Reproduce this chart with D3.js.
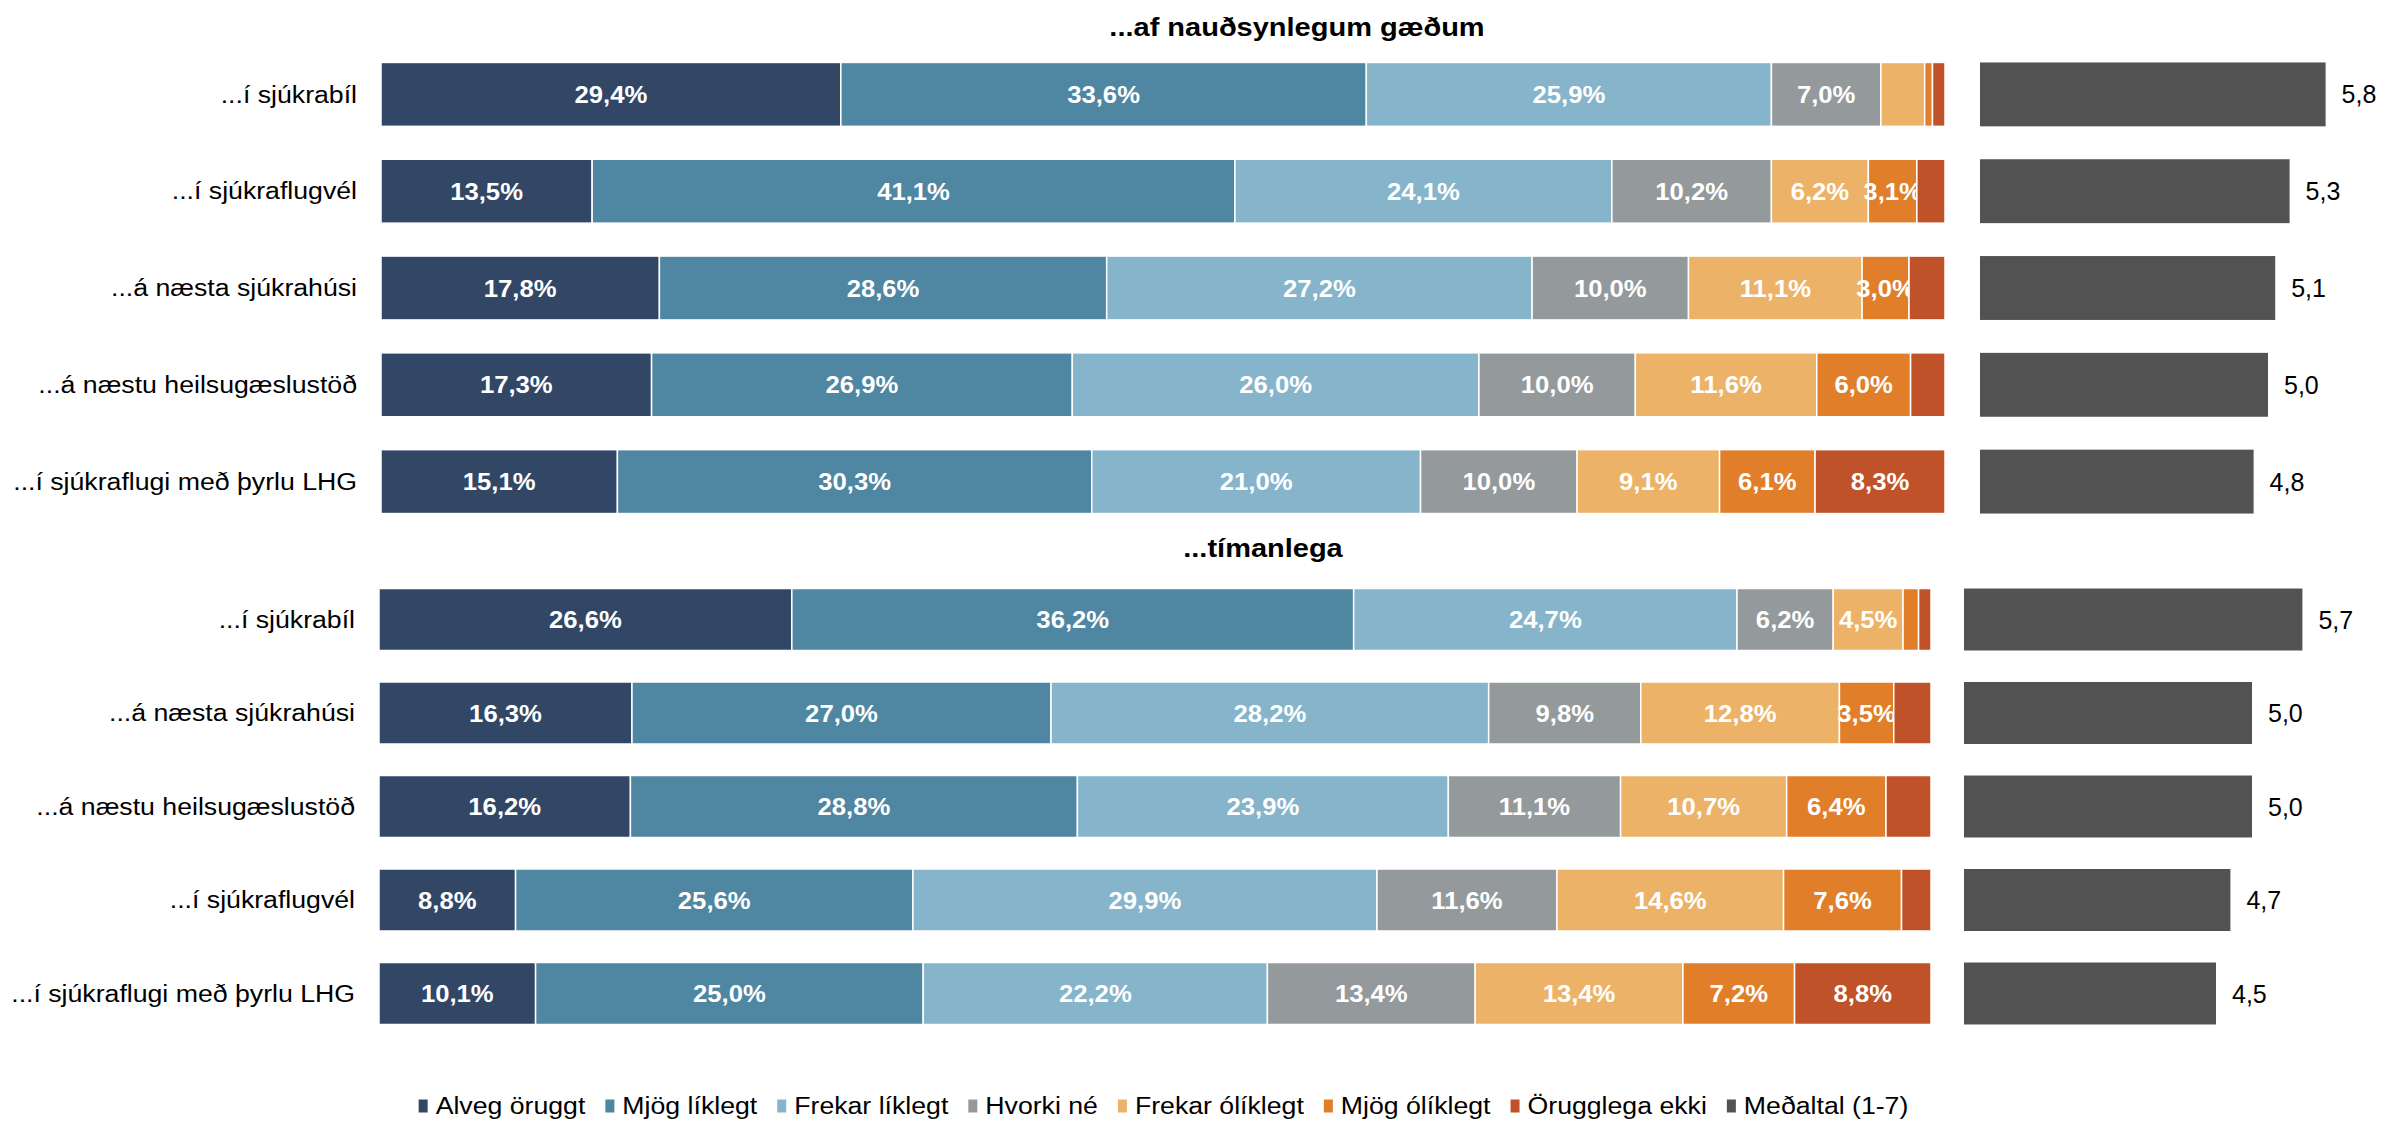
<!DOCTYPE html>
<html>
<head>
<meta charset="utf-8">
<script src="https://cdn.jsdelivr.net/npm/d3@7"></script>
<style>
  html, body { margin: 0; padding: 0; background: #fff; }
  svg { display: block; }
  text { font-family: "Liberation Sans", Arial, sans-serif; }
</style>
</head>
<body>
<svg id="chart" width="2384" height="1122"></svg>
<script>
// ---------- DATA ----------
const seriesNames = ["Alveg öruggt", "Mjög líklegt", "Frekar líklegt", "Hvorki né", "Frekar ólíklegt", "Mjög ólíklegt", "Örugglega ekki"];
const meanName = "Meðaltal (1-7)";

const titleTop = "...af nauðsynlegum gæðum";
const titleBottom = "...tímanlega";

const categoriesTop = ["...í sjúkrabíl", "...í sjúkraflugvél", "...á næsta sjúkrahúsi", "...á næstu heilsugæslustöð", "...í sjúkraflugi með þyrlu LHG"];
const categoriesBottom = ["...í sjúkrabíl", "...á næsta sjúkrahúsi", "...á næstu heilsugæslustöð", "...í sjúkraflugvél", "...í sjúkraflugi með þyrlu LHG"];

// top section (af nauðsynlegum gæðum)
const topAlveg   = [29.4, 13.5, 17.8, 17.3, 15.1];
const topMjogL   = [33.6, 41.1, 28.6, 26.9, 30.3];
const topFrekarL = [25.9, 24.1, 27.2, 26.0, 21.0];
const topHvorki  = [7.0, 10.2, 10.0, 10.0, 10.0];
const topFrekarO = [2.8, 6.2, 11.1, 11.6, 9.1];
const topMjogO   = [0.5, 3.1, 3.0, 6.0, 6.1];
const topOrugg   = [0.8, 1.8, 2.3, 2.2, 8.3];
const topMean    = [5.8, 5.3, 5.1, 5.0, 4.8];

// bottom section (tímanlega)
const botAlveg   = [26.6, 16.3, 16.2, 8.8, 10.1];
const botMjogL   = [36.2, 27.0, 28.8, 25.6, 25.0];
const botFrekarL = [24.7, 28.2, 23.9, 29.9, 22.2];
const botHvorki  = [6.2, 9.8, 11.1, 11.6, 13.4];
const botFrekarO = [4.5, 12.8, 10.7, 14.6, 13.4];
const botMjogO   = [1.0, 3.5, 6.4, 7.6, 7.2];
const botOrugg   = [0.8, 2.4, 2.9, 1.9, 8.8];
const botMean    = [5.7, 5.0, 5.0, 4.7, 4.5];

const meanDomain = [1, 7];

// ---------- STYLE ----------
const colors = ["#324666", "#4f86a1", "#86b5cb", "#949a9b", "#ecb368", "#e07e29", "#c05229"];
const meanColor = "#525252";
const stretch = 1.16;      // horizontal stretch of the original text
const valStretch = 1.07;   // stretch of the value labels

const locale = d3.formatLocale({decimal: ",", thousands: ".", grouping: [3], currency: ["", ""]});
const fmtPct = v => locale.format(".1f")(v) + "%";
const fmtMean = locale.format(".1f");

const svg = d3.select("#chart");

function buildRows(cats, arrs) {
  return cats.map((c, i) => {
    const o = {cat: c};
    seriesNames.forEach((s, j) => o[s] = arrs[j][i]);
    return o;
  });
}

function drawSection(cfg) {
  const rows = buildRows(cfg.cats, cfg.arrs);
  const y = d3.scaleBand().domain(cfg.cats).range(cfg.yRange).paddingInner(cfg.pad).paddingOuter(cfg.pad / 2);
  const x = d3.scaleLinear().domain([0, 1]).range(cfg.xRange);
  const xm = d3.scaleLinear().domain(meanDomain).range([cfg.meanX0, cfg.meanX0 + 72 * (meanDomain[1] - meanDomain[0])]);

  const stack = d3.stack().keys(seriesNames).offset(d3.stackOffsetExpand);
  const layers = stack(rows);

  const g = svg.append("g");

  const lg = g.selectAll("g.layer").data(layers).join("g")
    .attr("fill", (d, i) => colors[i]);

  lg.selectAll("rect").data(d => d.map(v => ({v, key: d.key}))).join("rect")
    .attr("x", d => x(d.v[0]))
    .attr("y", d => y(d.v.data.cat))
    .attr("width", d => Math.max(0, x(d.v[1]) - x(d.v[0])))
    .attr("height", y.bandwidth())
    .attr("stroke", "#fff")
    .attr("stroke-width", 1.5);

  lg.selectAll("text").data(d => d.map(v => ({v, key: d.key})).filter(d => d.v.data[d.key] >= 3)).join("text")
    .attr("transform", d => `translate(${(x(d.v[0]) + x(d.v[1])) / 2},${y(d.v.data.cat) + y.bandwidth() / 2}) scale(${valStretch},1)`)
    .attr("dy", "0.36em")
    .attr("text-anchor", "middle")
    .attr("fill", "#fff")
    .attr("font-weight", "bold")
    .attr("font-size", 24)
    .text(d => fmtPct(d.v.data[d.key]));

  // category labels
  g.selectAll("text.cat").data(cfg.cats).join("text")
    .attr("class", "cat")
    .attr("transform", d => `translate(${cfg.xRange[0] - 24},${y(d) + y.bandwidth() / 2}) scale(${stretch},1)`)
    .attr("dy", "0.36em")
    .attr("text-anchor", "end")
    .attr("font-size", 23)
    .attr("fill", "#000")
    .text(d => d);

  // mean bars
  g.selectAll("rect.mean").data(cfg.means).join("rect")
    .attr("class", "mean")
    .attr("x", xm(meanDomain[0]))
    .attr("y", (d, i) => y(cfg.cats[i]))
    .attr("width", d => xm(d) - xm(meanDomain[0]))
    .attr("height", y.bandwidth())
    .attr("fill", meanColor);

  g.selectAll("text.mean").data(cfg.means).join("text")
    .attr("class", "mean")
    .attr("x", d => xm(d) + 16)
    .attr("y", (d, i) => y(cfg.cats[i]) + y.bandwidth() / 2)
    .attr("dy", "0.36em")
    .attr("font-size", 25)
    .attr("fill", "#000")
    .text(d => fmtMean(d));

  g.append("text")
    .attr("transform", `translate(${cfg.titleX},${cfg.titleY}) scale(${stretch},1)`)
    .attr("text-anchor", "middle")
    .attr("font-weight", "bold")
    .attr("font-size", 25)
    .attr("fill", "#000")
    .text(cfg.title);
}

drawSection({
  cats: categoriesTop,
  arrs: [topAlveg, topMjogL, topFrekarL, topHvorki, topFrekarO, topMjogO, topOrugg],
  means: topMean,
  yRange: [46, 530], pad: 0.34,
  xRange: [381, 1945],
  meanX0: 1980,
  title: titleTop, titleX: 1297, titleY: 36
});

drawSection({
  cats: categoriesBottom,
  arrs: [botAlveg, botMjogL, botFrekarL, botHvorki, botFrekarO, botMjogO, botOrugg],
  means: botMean,
  yRange: [572.75, 1040.25], pad: 0.337,
  xRange: [379, 1931],
  meanX0: 1964,
  title: titleBottom, titleX: 1263, titleY: 557
});

// legend
const legendItems = seriesNames.map((s, i) => ({name: s, color: colors[i]})).concat([{name: meanName, color: meanColor}]);
const leg = svg.append("g");
const items = leg.selectAll("g").data(legendItems).join("g");
items.append("rect").attr("width", 9).attr("height", 13).attr("y", -6.5).attr("fill", d => d.color);
items.append("text")
  .attr("transform", `translate(17,0) scale(${stretch},1)`)
  .attr("dy", "0.36em").attr("font-size", 23).attr("fill", "#000").text(d => d.name);
let cx = 0;
const gap = 20;
items.each(function() {
  const w = this.querySelector("text").getComputedTextLength() * stretch;
  d3.select(this).attr("transform", `translate(${cx},0)`);
  cx += 17 + w + gap;
});
const totalW = cx - gap;
leg.attr("transform", `translate(${(411 + 1916) / 2 - totalW / 2},1106)`);
</script>
</body>
</html>
